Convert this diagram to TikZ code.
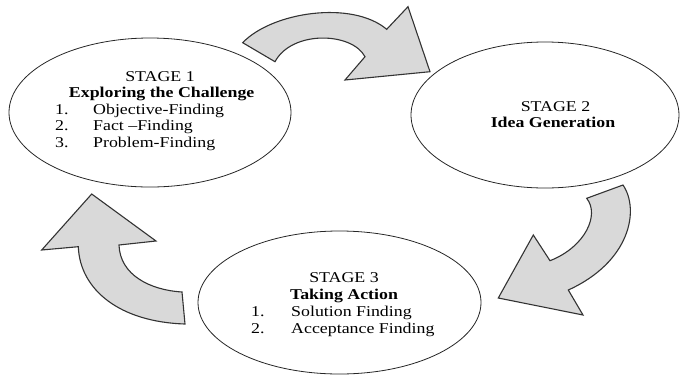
\documentclass[tikz,border=0pt]{standalone}
\usepackage{fontspec}
\setmainfont{Liberation Serif}[FakeStretch=1.19]
\usetikzlibrary{shapes.geometric}
\begin{document}
\begin{tikzpicture}[x=1pt,y=-1pt,
  stage/.style={ellipse, draw=black!85, line width=0.8pt, inner sep=0pt},
  cyclearrow/.style={fill=black!15, draw=black!80, line width=1.1pt, line join=miter},
  txt/.style={inner sep=0pt, font=\fontsize{15}{16}\selectfont},
  head/.style={txt, anchor=base},
  item/.style={txt, anchor=base west}]
\useasboundingbox (0,0) rectangle (681,376);

% the three stage ellipses
\node[stage, minimum width=282pt, minimum height=149pt] (s1) at (150,112.5) {};
\node[stage, minimum width=268pt, minimum height=146pt] (s2) at (545,115) {};
\node[stage, minimum width=283pt, minimum height=143pt] (s3) at (339.5,302.5) {};

% curved block arrow: stage 1 -> stage 2
\filldraw[cyclearrow]
  (242.7,42.7) .. controls (272,12) and (352,0) .. (386.7,29.3)
  -- (408,6.7) -- (430,71.7) -- (345,80) -- (365,56.7)
  .. controls (352,32) and (292,30) .. (275,61.7) -- cycle;

% curved block arrow: stage 2 -> stage 3
\filldraw[cyclearrow]
  (623,185) .. controls (640,210) and (630,262) .. (568.3,290)
  -- (583,315) -- (498.3,298) -- (533.3,235) -- (550,260.7)
  .. controls (585,247) and (600,215) .. (586.7,198.3) -- cycle;

% curved block arrow: stage 3 -> stage 1
\filldraw[cyclearrow]
  (185,324) .. controls (120,322) and (80,290) .. (78.3,246.7)
  -- (41.7,250) -- (91.7,194) -- (156,241) -- (119,245)
  .. controls (120,275) and (150,290) .. (182,292) -- cycle;

% stage 1 text
\node[head] (s1a) at (160,81.7) {STAGE 1};
\node[head] (s1b) at (161.7,97.7) {\bfseries Exploring the Challenge};
\node[item] (s1n1) at (55,114) {1.};
\node[item] (s1i1) at (93,114) {Objective-Finding};
\node[item] (s1n2) at (55,130.5) {2.};
\node[item] (s1i2) at (93,130.5) {Fact –Finding};
\node[item] (s1n3) at (55,147) {3.};
\node[item] (s1i3) at (93,147) {Problem-Finding};

% stage 2 text
\node[head] (s2a) at (555.5,111) {STAGE 2};
\node[head] (s2b) at (553,127.7) {\bfseries Idea Generation};

% stage 3 text
\node[head] (s3a) at (344,282.7) {STAGE 3};
\node[head] (s3b) at (344,299.3) {\bfseries Taking Action};
\node[item] (s3n1) at (251,316) {1.};
\node[item] (s3i1) at (291,316) {Solution Finding};
\node[item] (s3n2) at (251,333) {2.};
\node[item] (s3i2) at (291,333) {Acceptance Finding};
\end{tikzpicture}
\end{document}
